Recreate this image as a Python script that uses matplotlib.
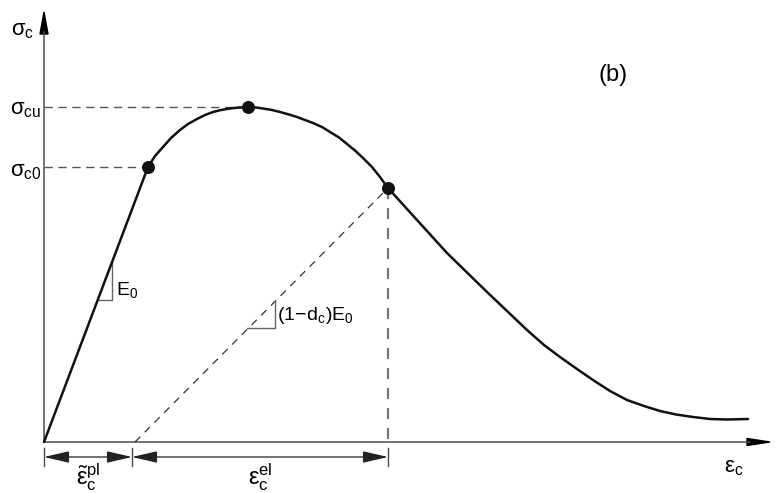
import matplotlib
matplotlib.use("Agg")
import matplotlib.pyplot as plt
from matplotlib.patches import Polygon

plt.rcParams['font.family'] = ['Liberation Sans', 'DejaVu Sans']
plt.rcParams['mathtext.fontset'] = 'custom'
plt.rcParams['mathtext.rm'] = 'Liberation Sans'
plt.rcParams['mathtext.it'] = 'Liberation Sans'
plt.rcParams['mathtext.bf'] = 'Liberation Sans:bold'

# ---- data (strain / stress in drawing units, origin at 0,0) ----
strain = [0, 104, 111, 119, 127, 136, 144, 153, 161, 169, 177, 186, 195, 204,
          212, 219, 228, 236, 245, 253, 261, 269, 278, 286, 295, 303, 311,
          319, 328, 336, 344, 373, 403, 443, 483, 500, 516, 533, 549, 566,
          583, 600, 616, 632, 649, 666, 683, 704]
stress = [0, 275, 286, 295, 304, 312, 318, 323, 327, 330, 332, 333.5, 334.5, 335,
          334.5, 333.5, 332, 330, 327.5, 325, 322, 319, 315, 310, 304.5, 298, 291.5,
          284, 275, 265, 254, 222, 189, 150, 112, 97, 85, 73, 62, 51,
          42, 36, 31, 27.5, 25, 23, 22.5, 23]

eps_c0, sig_c0 = 104, 275      # end of elastic range
eps_cu, sig_cu = 204, 335      # peak
eps_u, sig_u = 344, 254        # unloading point
eps_pl = 89                    # plastic strain

x_max, y_max = 726, 430        # axis extents

fig = plt.figure(figsize=(7.76, 4.93), dpi=100)
ax = fig.add_axes([0, 0, 1, 1])
ax.set_xlim(-44, 732)
ax.set_ylim(-51, 442)
ax.axis('off')

axis_col = '#4a4a4a'
dash_col = '#555555'

# axes with arrows
ax.plot([0, 0], [0, y_max - 20], color=axis_col, lw=1.1)
ax.add_patch(Polygon([[-4, y_max - 22], [4, y_max - 22], [0, y_max]],
                     closed=True, color='black'))
ax.plot([0, x_max - 20], [0, 0], color=axis_col, lw=1.1)
ax.add_patch(Polygon([[x_max - 23, -3.5], [x_max - 23, 3.5], [x_max, 0]],
                     closed=True, color='black'))

# dashed helper lines
ax.plot([0, eps_cu], [sig_cu, sig_cu], ls=(0, (6, 4)), color=dash_col, lw=1.0)
ax.plot([0, eps_c0], [sig_c0, sig_c0], ls=(0, (6, 4)), color=dash_col, lw=1.0)
ax.plot([eps_u, eps_u], [sig_u, -4], ls=(0, (5, 4)), color='#777777', lw=1.6)
ax.plot([eps_pl + 2, eps_u], [0, sig_u], ls=(0, (6, 5)), color='#333333', lw=0.9)

# stress-strain curve
ax.plot(strain, stress, color='#111111', lw=1.8, solid_capstyle='round',
        solid_joinstyle='round', zorder=3)
ax.scatter([eps_c0, eps_cu, eps_u], [sig_c0, sig_cu, sig_u], s=70,
           color='#111111', zorder=4)

# slope triangles
k0 = sig_c0 / eps_c0
ax.plot([142 / k0, 68, 68], [142, 142, 68 * k0], color='#666666', lw=1.0)
ku = sig_u / (eps_u - eps_pl)
xv = 231
ax.plot([eps_pl + 114 / ku, xv, xv], [114, 114, (xv - eps_pl) * ku],
        color='#666666', lw=1.0)
ax.text(72, 152, r'$\mathregular{E_0}$', fontsize=14, va='center', ha='left')
ax.text(233, 126, r'$\mathregular{(1\!-\!d_c)E_0}$', fontsize=14,
        va='center', ha='left')

# dimension lines
ydim = -15
for xt in [0, eps_pl - 1, eps_u]:
    ax.plot([xt, xt], [-6, -24], color=axis_col, lw=1.0)
for a, b in [(0, eps_pl - 1), (eps_pl - 1, eps_u)]:
    ax.annotate('', xy=(a, ydim), xytext=(b, ydim),
                arrowprops=dict(arrowstyle='<|-|>,head_length=1.3,head_width=0.3',
                                color='#222222', lw=0.9, shrinkA=0, shrinkB=0,
                                mutation_scale=12))

# labels
ax.text(-21, 411, r'$\mathregular{σ_c}$', fontsize=16, ha='center', va='center')
ax.text(-18, 332, r'$\mathregular{σ_{cu}}$', fontsize=16, ha='center', va='center')
ax.text(-18, 270, r'$\mathregular{σ_{c0}}$', fontsize=16, ha='center', va='center')
ax.text(44, -35, r'$\mathregular{\tilde{ε}_c^{pl}}$', fontsize=17, ha='center', va='center')
ax.text(216, -35, r'$\mathregular{ε_c^{el}}$', fontsize=17, ha='center', va='center')
ax.text(690, -25, r'$\mathregular{ε_c}$', fontsize=16, ha='center', va='center')
ax.text(569, 367, '(b)', fontsize=17, ha='center', va='center')

fig.savefig('out.png', dpi=100)
